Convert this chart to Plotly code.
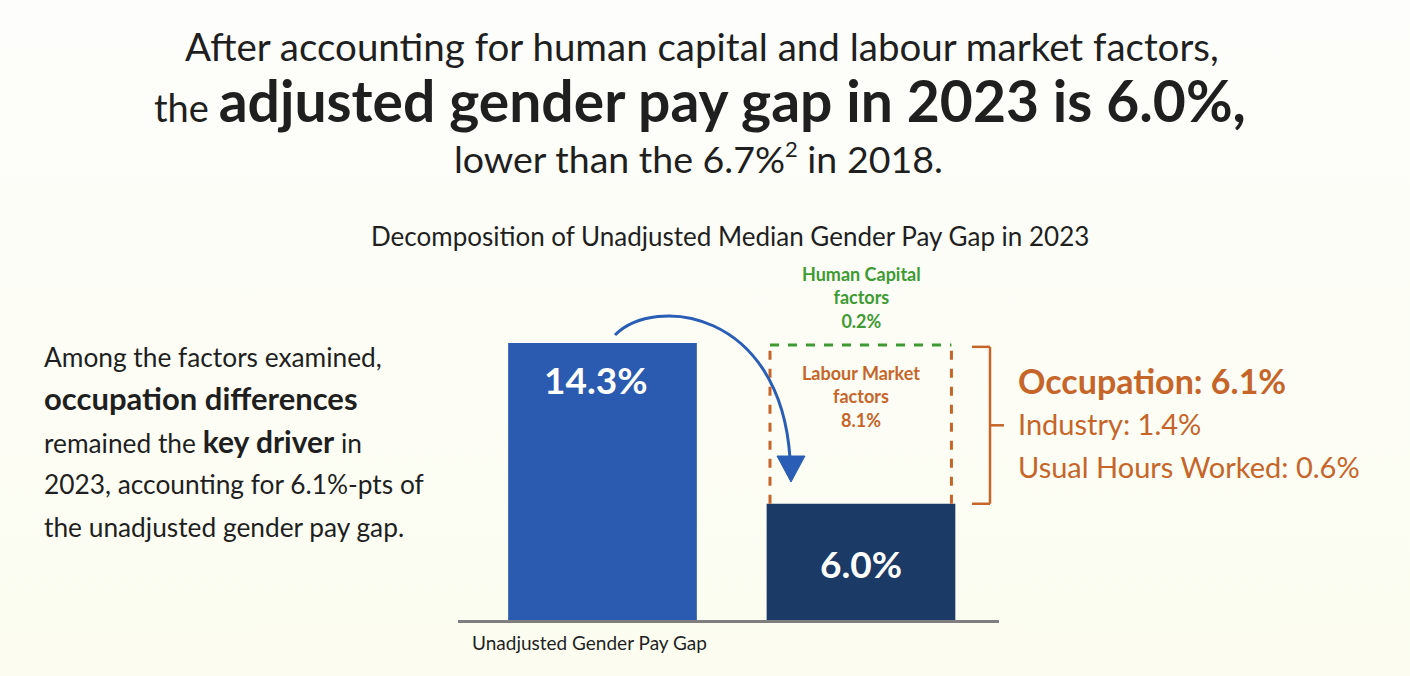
import base64
import plotly.graph_objects as go

# ---------------- data ----------------
categories = ["Unadjusted Gender Pay Gap", "Adjusted Gender Pay Gap"]
tick_labels = ["Unadjusted Gender Pay Gap"]
gap_values = [14.3, 6.0]
labour_market = 8.1
human_capital = 0.2
labour_breakdown_names = ["Occupation", "Industry", "Usual Hours Worked"]
labour_breakdown_values = [6.1, 1.4, 0.6]
bar_colors = ["#2A5BB0", "#1B3A66"]

W, H = 1410, 676
FONT = "Lato"
ORANGE = "#C6652A"
GREEN = "#3F9A33"
DARK = "#1F1F1F"


def px(x):
    return x / W


def py(y):
    return 1 - y / H


fig = go.Figure()
for i, (cat, val) in enumerate(zip(categories, gap_values)):
    fig.add_trace(go.Bar(
        x=[cat], y=[val], width=0.73,
        marker=dict(color=bar_colors[i], line=dict(width=0)),
        hoverinfo="skip", showlegend=False,
    ))

# bar value labels
fig.add_annotation(x=categories[0], y=gap_values[0], xref="x", yref="y",
                   text=f"<b>{gap_values[0]:.1f}%</b>", showarrow=False,
                   yanchor="top", yshift=-12, xshift=-6,
                   font=dict(family=FONT, size=37, color="white"))
fig.add_annotation(x=categories[1], y=gap_values[1] / 2, xref="x", yref="y",
                   text=f"<b>{gap_values[1]:.1f}%</b>", showarrow=False,
                   yanchor="middle", yshift=-2,
                   font=dict(family=FONT, size=37, color="white"))

# dashed box for explained factors
x_l, x_r = 1 - 0.352, 1 + 0.35
top_lm = gap_values[1] + labour_market
fig.add_shape(type="line", xref="x", yref="y", x0=x_l, x1=x_l,
              y0=gap_values[1], y1=top_lm,
              line=dict(color=ORANGE, width=3, dash="dash"))
fig.add_shape(type="line", xref="x", yref="y", x0=x_r, x1=x_r,
              y0=gap_values[1], y1=top_lm,
              line=dict(color=ORANGE, width=3, dash="dash"))
fig.add_shape(type="line", xref="x", yref="y", x0=x_l, x1=x_r,
              y0=top_lm + human_capital / 2, y1=top_lm + human_capital / 2,
              line=dict(color=GREEN, width=3, dash="dash"))

# bracket
bx = px(990)
for (ya, yb) in [(top_lm, top_lm), (gap_values[1], gap_values[1])]:
    fig.add_shape(type="line", xref="paper", yref="y", x0=px(972), x1=bx,
                  y0=ya, y1=yb, line=dict(color=ORANGE, width=2.5))
fig.add_shape(type="line", xref="paper", yref="y", x0=bx, x1=bx,
              y0=gap_values[1], y1=top_lm, line=dict(color=ORANGE, width=2.5))
mid = (gap_values[1] + top_lm) / 2
fig.add_shape(type="line", xref="paper", yref="y", x0=bx, x1=px(1004),
              y0=mid, y1=mid, line=dict(color=ORANGE, width=2.5))

# labels in box
fig.add_annotation(x=px(861), y=py(297), xref="paper", yref="paper",
                   text=f"<b>Human Capital<br>factors<br>{human_capital:.1f}%</b>",
                   showarrow=False, xanchor="center", yanchor="middle", align="center",
                   font=dict(family=FONT, size=18, color=GREEN))
fig.add_annotation(x=px(861), y=py(396), xref="paper", yref="paper",
                   text=f"<b>Labour Market<br>factors<br>{labour_market:.1f}%</b>",
                   showarrow=False, xanchor="center", yanchor="middle", align="center",
                   font=dict(family=FONT, size=18, color=ORANGE))

# breakdown text
right_lines = [
    (f"<b>{labour_breakdown_names[0]}: {labour_breakdown_values[0]:.1f}%</b>", 380, 34),
    (f"{labour_breakdown_names[1]}: {labour_breakdown_values[1]:.1f}%", 423, 29),
    (f"{labour_breakdown_names[2]}: {labour_breakdown_values[2]:.1f}%", 466, 29),
]
for txt, yy, sz in right_lines:
    fig.add_annotation(x=px(1016), y=py(yy), xref="paper", yref="paper", text=txt,
                       showarrow=False, xanchor="left", yanchor="middle",
                       font=dict(family=FONT, size=sz, color=ORANGE))

# arrow
pts = [(615, 335), (655, 295), (780, 310), (790, 458)]
p = [f"{px(a):.5f},{py(b):.5f}" for a, b in pts]
fig.add_shape(type="path", xref="paper", yref="paper",
              path=f"M {p[0]} C {p[1]} {p[2]} {p[3]}",
              line=dict(color="#2A5DB5", width=3))
tri = [(777, 456), (805, 456), (791, 482)]
t = [f"{px(a):.5f},{py(b):.5f}" for a, b in tri]
fig.add_shape(type="path", xref="paper", yref="paper",
              path=f"M {t[0]} L {t[1]} L {t[2]} Z",
              fillcolor="#2A5DB5", line=dict(color="#2A5DB5", width=1))

# titles
fig.add_annotation(x=px(702), y=py(46), xref="paper", yref="paper",
                   text="After accounting for human capital and labour market factors,",
                   showarrow=False, xanchor="center", yanchor="middle",
                   font=dict(family=FONT, size=38.5, color=DARK))
fig.add_annotation(x=px(700), y=py(100), xref="paper", yref="paper",
                   text="<span style='font-size:38px'>the </span><b>adjusted gender pay gap in 2023 is 6.0%,</b>",
                   showarrow=False, xanchor="center", yanchor="middle",
                   font=dict(family=FONT, size=57, color=DARK))
fig.add_annotation(x=px(698), y=py(158), xref="paper", yref="paper",
                   text="lower than the 6.7%<sup><span style='font-size:22px'>2</span></sup> in 2018.",
                   showarrow=False, xanchor="center", yanchor="middle",
                   font=dict(family=FONT, size=37.5, color=DARK))
fig.add_annotation(x=px(730), y=py(236), xref="paper", yref="paper",
                   text="Decomposition of Unadjusted Median Gender Pay Gap in 2023",
                   showarrow=False, xanchor="center", yanchor="middle",
                   font=dict(family=FONT, size=26, color=DARK))

# left commentary
left_lines = [
    ("Among the factors examined,", 357),
    ("<span style='font-size:31px'><b>occupation differences</b></span>", 398),
    ("remained the <span style='font-size:30px'><b>key driver</b></span> in", 441),
    ("2023, accounting for 6.1%-pts of", 484),
    ("the unadjusted gender pay gap.", 527),
]
for txt, yy in left_lines:
    fig.add_annotation(x=px(42), y=py(yy), xref="paper", yref="paper", text=txt,
                       showarrow=False, xanchor="left", yanchor="middle", align="left",
                       font=dict(family=FONT, size=26.3, color=DARK))

# background gradient
svg = ("<svg xmlns='http://www.w3.org/2000/svg' width='10' height='100' preserveAspectRatio='none'>"
       "<defs><linearGradient id='g' x1='0' y1='0' x2='0' y2='1'>"
       "<stop offset='0' stop-color='#FDFDFB'/><stop offset='1' stop-color='#FCFDF0'/>"
       "</linearGradient></defs><rect width='10' height='100' fill='url(#g)'/></svg>")
src = "data:image/svg+xml;base64," + base64.b64encode(svg.encode()).decode()
fig.add_layout_image(source=src, xref="paper", yref="paper", x=0, y=1,
                     sizex=1, sizey=1, sizing="stretch", layer="below",
                     xanchor="left", yanchor="top")

fig.update_layout(
    width=W, height=H,
    margin=dict(l=0, r=0, t=0, b=0),
    paper_bgcolor="#FDFDF6", plot_bgcolor="rgba(0,0,0,0)",
    barmode="overlay", showlegend=False, hovermode=False,
    font=dict(family=FONT, color=DARK),
    xaxis=dict(domain=[px(458), px(999)], type="category",
               categoryorder="array", categoryarray=categories,
               range=[-0.559, 1.534], showgrid=False, zeroline=False,
               showline=True, linecolor="#7F7F7F", linewidth=3,
               tickmode="array", tickvals=categories[:1], ticktext=tick_labels,
               ticks="", ticklabelstandoff=4, ticklabelshift=-13,
               tickfont=dict(family=FONT, size=19, color=DARK)),
    yaxis=dict(domain=[py(620), py(250)], range=[0, 19.10], visible=False,
               showgrid=False, zeroline=False, fixedrange=True),
)

fig.write_html("out.html")
